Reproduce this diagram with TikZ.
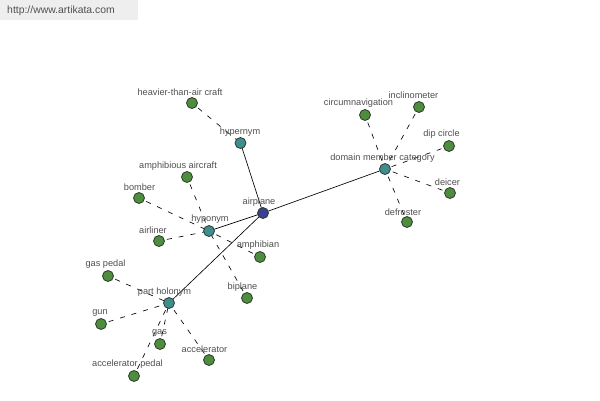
\documentclass[tikz,border=0pt]{standalone}
\usepackage{fontspec}
\setmainfont{Liberation Sans}
\definecolor{leafc}{HTML}{4E8C3E}
\definecolor{hubc}{HTML}{3E8E8E}
\definecolor{rootc}{HTML}{3B3F94}
\definecolor{rimc}{HTML}{2E3A2E}
\definecolor{txtc}{HTML}{505050}
\definecolor{wmbg}{HTML}{EEEEEE}
\tikzset{
  dot/.style={circle,draw=rimc,line width=0.8pt,minimum size=11pt,inner sep=0pt},
  leafnode/.style={dot,fill=leafc},
  hubnode/.style={dot,fill=hubc},
  rootnode/.style={dot,fill=rootc},
  lbl/.style={text=txtc,inner sep=0pt,font=\fontsize{9.2}{11}\selectfont},
  sedge/.style={draw=black,line width=0.65pt},
  dedge/.style={draw=black,line width=0.65pt,dash pattern=on 5pt off 7pt,shorten <=8pt,shorten >=5pt}
}
\begin{document}
\begin{tikzpicture}[x=1pt,y=-1pt]
\useasboundingbox (0,0) rectangle (600,400);
\fill[white] (0,0) rectangle (600,400);
\fill[wmbg] (0,0) rectangle (138,20);
\node[text=txtc,inner sep=0pt,font=\fontsize{10.4}{12}\selectfont] (wm) at (61,11) {http://www.artikata.com};
% coordinates
\coordinate (airplane) at (263,213);
\coordinate (hypernym) at (240.5,143);
\coordinate (domain) at (385,169);
\coordinate (hyponym) at (209,231);
\coordinate (holonym) at (169,303);
\coordinate (heavier) at (192,103);
\coordinate (circum) at (365,115);
\coordinate (incl) at (419,107);
\coordinate (dip) at (449,146);
\coordinate (deicer) at (450,193);
\coordinate (defroster) at (407,222);
\coordinate (amphac) at (187,177);
\coordinate (bomber) at (139,198);
\coordinate (airliner) at (159,241);
\coordinate (amphibian) at (260,257);
\coordinate (biplane) at (247,298);
\coordinate (gaspedal) at (108,276);
\coordinate (gun) at (101,324);
\coordinate (gas) at (160,344);
\coordinate (accel) at (209,360);
\coordinate (accpedal) at (134,376);
% solid edges
\draw[sedge] (airplane) -- (hypernym);
\draw[sedge] (airplane) -- (domain);
\draw[sedge] (airplane) -- (hyponym);
\draw[sedge] (airplane) -- (holonym);
% dashed edges
\draw[dedge] (heavier) -- (hypernym);
\foreach \l in {circum,incl,dip,deicer,defroster} \draw[dedge] (\l) -- (domain);
\foreach \l in {amphac,bomber,airliner,amphibian,biplane} \draw[dedge] (\l) -- (hyponym);
\foreach \l in {gaspedal,gun,gas,accel,accpedal} \draw[dedge] (\l) -- (holonym);
% nodes
\node[rootnode] (n-airplane) at (airplane) {};
\node[hubnode] (n-hypernym) at (hypernym) {};
\node[hubnode] (n-domain) at (domain) {};
\node[hubnode] (n-hyponym) at (hyponym) {};
\node[hubnode] (n-holonym) at (holonym) {};
\foreach \l in {heavier,circum,incl,dip,deicer,defroster,amphac,bomber,airliner,amphibian,biplane,gaspedal,gun,gas,accel,accpedal}
  \node[leafnode] (n-\l) at (\l) {};
% labels
\node[lbl] (l-airplane) at (259,202) {airplane};
\node[lbl] (l-hypernym) at (240,132) {hypernym};
\node[lbl] (l-domain) at (382.5,158) {domain member category};
\node[lbl] (l-hyponym) at (210,219.5) {hyponym};
\node[lbl] (l-holonym) at (164.5,292) {part holonym};
\node[lbl] (l-heavier) at (180,92) {heavier-than-air craft};
\node[lbl] (l-circum) at (358.5,103) {circumnavigation};
\node[lbl] (l-incl) at (413.5,95.5) {inclinometer};
\node[lbl] (l-dip) at (441.5,134) {dip circle};
\node[lbl] (l-deicer) at (447.5,182) {deicer};
\node[lbl] (l-defroster) at (403,212.5) {defroster};
\node[lbl] (l-amphac) at (178,166) {amphibious aircraft};
\node[lbl] (l-bomber) at (139.5,187) {bomber};
\node[lbl] (l-airliner) at (153,230) {airliner};
\node[lbl] (l-amphibian) at (258,245) {amphibian};
\node[lbl] (l-biplane) at (242.5,287) {biplane};
\node[lbl] (l-gaspedal) at (105.5,264) {gas pedal};
\node[lbl] (l-gun) at (100,313) {gun};
\node[lbl] (l-gas) at (159.5,333) {gas};
\node[lbl] (l-accel) at (204.5,349) {accelerator};
\node[lbl] (l-accpedal) at (127.5,364) {accelerator pedal};
\end{tikzpicture}
\end{document}
